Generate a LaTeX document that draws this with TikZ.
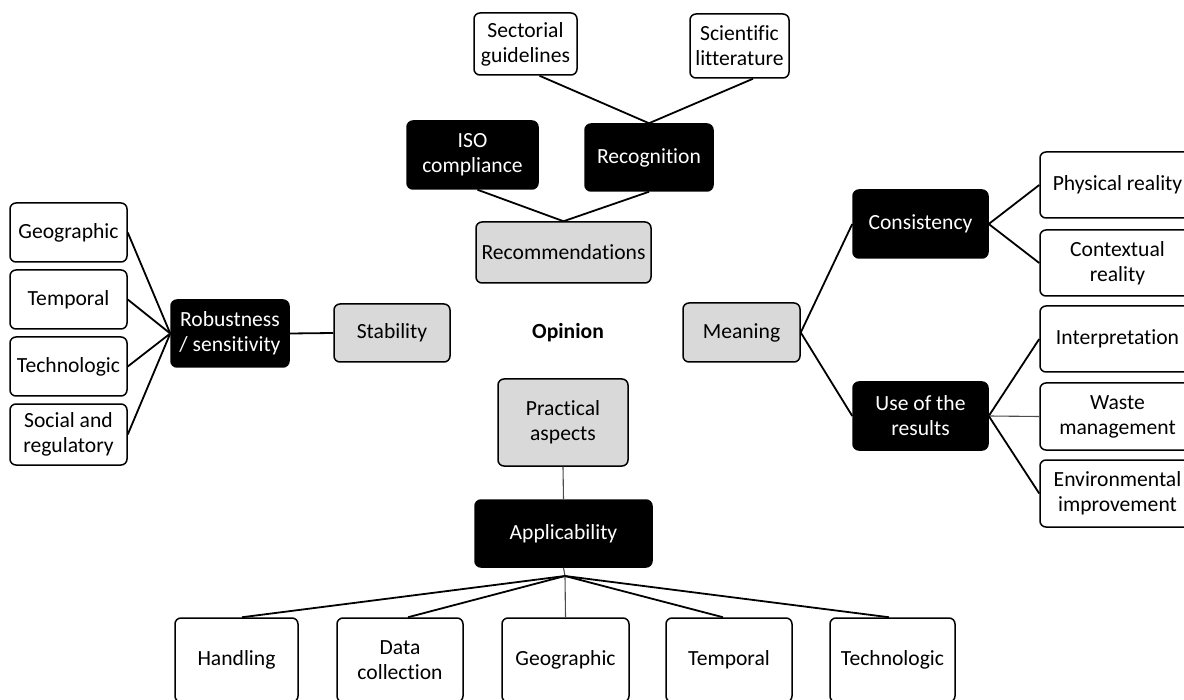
\documentclass[tikz,border=0pt]{standalone}
\usepackage{fontspec}
\setmainfont{Carlito}[Ligatures=NoCommon]
\begin{document}
\begin{tikzpicture}[x=0.5pt,y=-0.5pt,
  base/.style={draw=black,line width=0.75pt,rounded corners=3pt,align=center,inner sep=0pt,
    font=\fontsize{10.8}{12.5}\selectfont},
  wbox/.style={base,fill=white,text=black},
  gbox/.style={base,fill=gray!30,text=black},
  bbox/.style={base,fill=black,text=white},
  conn/.style={draw=black,line width=0.9pt},
  thin/.style={draw=black!70,line width=0.55pt}]
\useasboundingbox (0,0) rectangle (1184,700);
\clip (0,0) rectangle (1184,700);
% top
\node[wbox,minimum width=51.5pt,minimum height=31pt] (sect) at (525.5,44) {Sectorial\\guidelines};
\node[wbox,minimum width=49.5pt,minimum height=32pt] (scien) at (739.5,46) {Scientific\\litterature};
\node[bbox,minimum width=65.5pt,minimum height=34pt] (iso) at (472.5,155) {ISO\\compliance};
\node[bbox,minimum width=64pt,minimum height=33.5pt] (recog) at (649,157.5) {Recognition};
\node[gbox,minimum width=87.5pt,minimum height=30.5pt] (recom) at (563.5,252.5) {Recommendations};
% left
\node[gbox,minimum width=58pt,minimum height=29pt] (stab) at (392,333) {Stability};
\node[bbox,minimum width=59pt,minimum height=33.5pt] (robust) at (230,333.5) {Robustness\\/ sensitivity};
\node[wbox,minimum width=58.5pt,minimum height=29.5pt] (lgeo) at (68.5,232.5) {Geographic};
\node[wbox,minimum width=58.5pt,minimum height=29.5pt] (ltemp) at (68.5,299.5) {Temporal};
\node[wbox,minimum width=58.5pt,minimum height=29.5pt] (ltech) at (68.5,366.5) {Technologic};
\node[wbox,minimum width=58.5pt,minimum height=30.5pt] (lsoc) at (68.5,434.5) {Social and\\regulatory};
% centre
\node[font=\fontsize{10.8}{12.5}\selectfont\bfseries] (opinion) at (568,333) {Opinion};
% right
\node[gbox,minimum width=58.5pt,minimum height=29.5pt] (mean) at (741.5,332.5) {Meaning};
\node[bbox,minimum width=67.5pt,minimum height=34pt] (cons) at (920.5,224) {Consistency};
\node[bbox,minimum width=67.5pt,minimum height=34pt] (use) at (920.5,416) {Use of the\\results};
\node[wbox,minimum width=77.5pt,minimum height=33pt] (phys) at (1117.5,185) {Physical reality};
\node[wbox,minimum width=77.5pt,minimum height=33pt] (ctx) at (1117.5,263) {Contextual\\reality};
\node[wbox,minimum width=77.5pt,minimum height=33pt] (interp) at (1117.5,339) {Interpretation};
\node[wbox,minimum width=77.5pt,minimum height=33.5pt] (waste) at (1117.5,416.5) {Waste\\management};
\node[wbox,minimum width=77.5pt,minimum height=33.5pt] (env) at (1117.5,493.5) {Environmental\\improvement};
% bottom
\node[gbox,minimum width=65pt,minimum height=43.5pt] (prac) at (563,422.5) {Practical\\aspects};
\node[bbox,minimum width=88.5pt,minimum height=33.5pt] (appl) at (563.5,533.5) {Applicability};
\node[wbox,minimum width=61.5pt,minimum height=42pt] (hand) at (236.5,660) {Handling};
\node[wbox,minimum width=63pt,minimum height=42pt] (data) at (400,660) {Data\\collection};
\node[wbox,minimum width=63.5pt,minimum height=42pt] (bgeo) at (565.5,660) {Geographic};
\node[wbox,minimum width=63pt,minimum height=42pt] (btemp) at (729,660) {Temporal};
\node[wbox,minimum width=62.5pt,minimum height=42pt] (btech) at (892.5,660) {Technologic};
\coordinate (ap) at (565,576);
% connectors
\draw[conn] ([xshift=7pt]sect.south) -- (recog.north);
\draw[conn] ([xshift=6.75pt]scien.south) -- (recog.north);
\draw[conn] ([xshift=2.5pt]iso.south) -- (recom.north);
\draw[conn] (recog.south) -- (recom.north);
\draw[conn] (lgeo.east) -- (robust.west);
\draw[conn] (ltemp.east) -- (robust.west);
\draw[conn] (ltech.east) -- (robust.west);
\draw[conn] (lsoc.east) -- (robust.west);
\draw[conn] (robust.east) -- (stab.west);
\draw[conn] (mean.east) -- (cons.west);
\draw[conn] (mean.east) -- (use.west);
\draw[conn] (cons.east) -- (phys.west);
\draw[conn] (cons.east) -- (ctx.west);
\draw[conn] (use.east) -- (interp.west);
\draw[thin] (use.east) -- (waste.west);
\draw[conn] (use.east) -- (env.west);
\draw[thin] (prac.south) -- (appl.north);
\draw[thin] (appl.south) -- (ap);
\draw[conn] (ap) -- ([xshift=2.75pt]hand.north);
\draw[conn] (ap) -- ([xshift=4pt]data.north);
\draw[thin] (ap) -- (bgeo.north);
\draw[conn] (ap) -- ([xshift=-3pt]btemp.north);
\draw[conn] (ap) -- ([xshift=-1.75pt]btech.north);
\end{tikzpicture}
\end{document}
